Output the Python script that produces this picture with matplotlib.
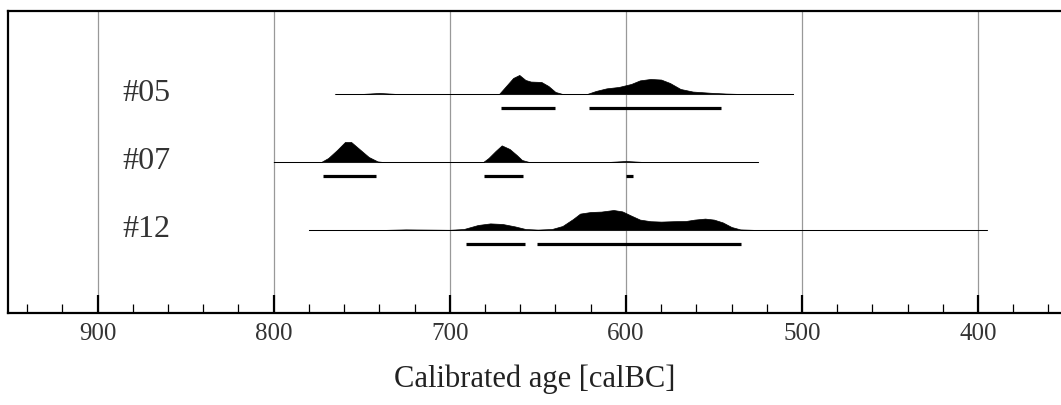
import numpy as np
import matplotlib
matplotlib.use("Agg")
import matplotlib.pyplot as plt
from matplotlib.ticker import MultipleLocator

# --- data (calBC, relative probability) ---
samples = ["#05", "#07", "#12"]

span_05 = [765, 505]
years_05 = [765, 750, 740, 730, 672, 669, 664, 660.5, 657, 654, 648, 644, 640, 636,
            622, 617, 611, 604, 597, 592, 586, 580, 575, 569, 562, 552, 543, 535, 505]
prob_05 = [0, 0, 0.05, 0, 0, 0.3, 0.8, 0.95, 0.7, 0.62, 0.6, 0.4, 0.1, 0,
           0, 0.15, 0.28, 0.35, 0.5, 0.68, 0.75, 0.72, 0.55, 0.25, 0.12, 0.06, 0.02, 0, 0]
ranges_05 = [(671, 640.5), (621, 546)]

span_07 = [800, 525]
years_07 = [800, 773, 769, 764, 759.5, 756, 752, 746, 741, 738,
            681, 678, 674, 670.5, 666, 662, 659, 655, 610, 600, 590, 525]
prob_07 = [0, 0, 0.2, 0.6, 1.0, 1.0, 0.7, 0.25, 0.03, 0,
           0, 0.2, 0.55, 0.83, 0.65, 0.35, 0.1, 0, 0, 0.05, 0, 0]
ranges_07 = [(772, 742), (680.5, 658.5), (600, 596)]

span_12 = [780, 395]
years_12 = [780, 740, 725, 712, 700, 692, 684, 677, 670, 663, 657, 650, 642, 636, 630,
            626, 620, 614, 607, 602, 597, 592, 586, 580, 573, 566, 561, 555, 550, 545,
            540, 535, 525, 395]
prob_12 = [0, 0, 0.03, 0.02, 0.01, 0.05, 0.25, 0.33, 0.3, 0.18, 0.05, 0.02, 0.05, 0.2, 0.55,
           0.82, 0.9, 0.92, 1.0, 0.93, 0.72, 0.52, 0.44, 0.42, 0.44, 0.45, 0.52, 0.57, 0.52, 0.38,
           0.15, 0.03, 0, 0]
ranges_12 = [(690.5, 657), (650.5, 534.5)]

spans = [span_05, span_07, span_12]
years = [years_05, years_07, years_12]
probs = [prob_05, prob_07, prob_12]
ranges = [ranges_05, ranges_07, ranges_12]

# --- figure ---
plt.rcParams["font.family"] = ["Liberation Serif", "DejaVu Serif"]
fig = plt.figure(figsize=(10.61, 4.05), dpi=100)
ax = fig.add_axes([0.0078, 0.2272, 0.9922, 0.7457])

scale = 0.294      # height of prob=1 in row units
bar_off = 0.206    # range bar below baseline

for i, name in enumerate(samples):
    y0 = 3 - i
    ax.plot(spans[i], [y0, y0], color="#aaaaaa", lw=0.8, zorder=2)
    yy = y0 + scale * np.array(probs[i])
    ax.fill_between(years[i], y0, yy, color="black", lw=0.5, zorder=3)
    for a, b in ranges[i]:
        ax.plot([a, b], [y0 - bar_off, y0 - bar_off], color="black", lw=2.3,
                solid_capstyle="butt", zorder=3)
    ax.text(886, y0, name, fontsize=23, color="#333333", va="center", ha="left")

ax.set_xlim(950.7, 352.9)
ax.set_ylim(-0.22, 4.22)
ax.set_yticks([])
ax.xaxis.set_major_locator(MultipleLocator(100))
ax.xaxis.set_minor_locator(MultipleLocator(20))
ax.tick_params(axis="x", which="major", direction="in", length=13, width=1.6,
               labelsize=18, labelcolor="#333333", pad=7)
ax.tick_params(axis="x", which="minor", direction="in", length=6.5, width=0.9)
ax.grid(axis="x", which="major", color="#999999", lw=0.9)
ax.set_axisbelow(True)

for s in ["left", "top", "bottom"]:
    ax.spines[s].set_linewidth(1.6)
ax.spines["right"].set_visible(False)

ax.set_xlabel("Calibrated age [calBC]", fontsize=22, color="#222222", labelpad=14)

fig.savefig("out.png", dpi=100)
